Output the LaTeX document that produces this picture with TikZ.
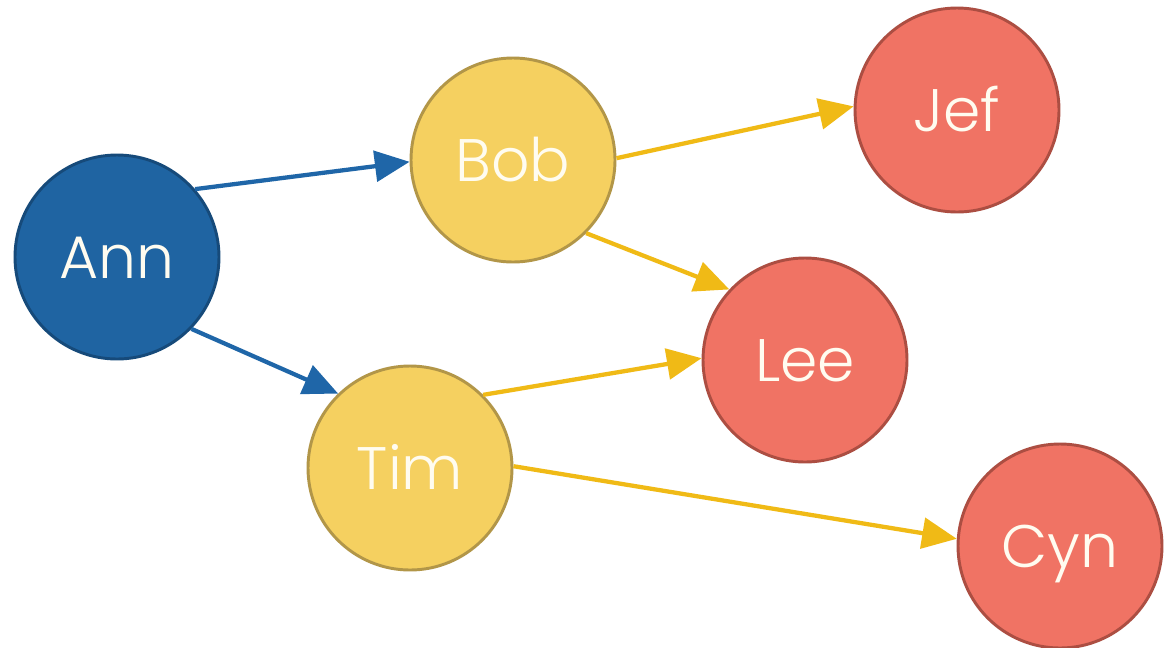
\documentclass[tikz,border=0pt]{standalone}
\usepackage{fontspec}
\setmainfont{Poppins}[UprightFont=* Light]
\usetikzlibrary{arrows.meta}
\definecolor{annfill}{RGB}{31,100,162}
\definecolor{annborder}{RGB}{22,74,122}
\definecolor{bluearrow}{RGB}{31,102,168}
\definecolor{yelfill}{RGB}{245,208,96}
\definecolor{yelborder}{RGB}{178,150,72}
\definecolor{yelarrow}{RGB}{240,186,22}
\definecolor{redfill}{RGB}{240,115,100}
\definecolor{redborder}{RGB}{172,78,66}
\definecolor{txt}{RGB}{255,252,240}
\tikzset{
  person/.style={circle, minimum size=153pt, inner sep=0pt, line width=2.2pt,
    text=txt, font=\fontsize{45}{45}\selectfont, text height=32pt, text depth=0pt},
  root/.style={person, fill=annfill, draw=annborder},
  mid/.style={person, fill=yelfill, draw=yelborder},
  leaf/.style={person, fill=redfill, draw=redborder},
  bluelink/.style={draw=bluearrow, line width=3.2pt, -{Triangle[length=26pt,width=23pt]}},
  yellink/.style={draw=yelarrow, line width=3.2pt, -{Triangle[length=26pt,width=23pt]}}
}
\begin{document}
\begin{tikzpicture}[x=0.75pt,y=-0.75pt]
\useasboundingbox[fill=white] (0,0) rectangle (1169,647);
\node[root] (ann) at (117,257) {Ann};
\node[mid] (bob) at (513,160) {Bob};
\node[mid] (tim) at (410,468) {Tim};
\node[leaf] (jef) at (957,110) {Jef};
\node[leaf] (lee) at (805,360) {Lee};
\node[leaf] (cyn) at (1060,546) {Cyn};
\draw[bluelink] (ann.41.5) -- (bob.181);
\draw[bluelink] (ann.-44.6) -- (tim.134);
\draw[yellink] (bob.1.5) -- (jef.178);
\draw[yellink] (bob.-45.5) -- (lee.137);
\draw[yellink] (tim.45) -- (lee.179);
\draw[yellink] (tim.1) -- (cyn.176.7);
\end{tikzpicture}
\end{document}
